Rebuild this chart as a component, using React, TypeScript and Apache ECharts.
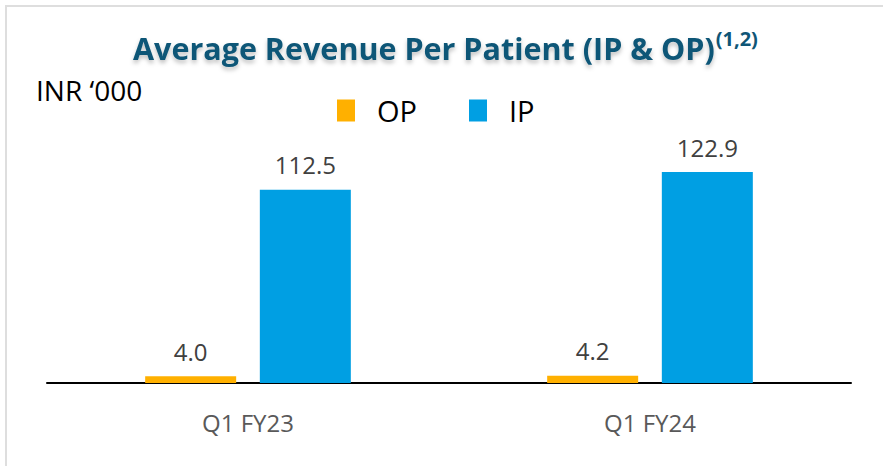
import React, { useEffect, useRef } from "react";
import * as echarts from "echarts";

const categories = ["Q1 FY23", "Q1 FY24"];
const opValues = [4.0, 4.2];
const ipValues = [112.5, 122.9];
const seriesNames = ["OP", "IP"];
const titleText = "Average Revenue Per Patient (IP & OP)";
const titleSup = "(1,2)";
const unitText = "INR \u2018000";

const FONT = "'Open Sans', 'Noto Sans', sans-serif";

export default function App() {
  const ref = useRef<HTMLDivElement>(null);
  useEffect(() => {
    document.body.style.margin = "0";
    const chart = echarts.init(ref.current!, null, { renderer: "svg" });
    const labelStyle = {
      show: true,
      position: "top",
      distance: 13,
      fontSize: 24,
      color: "#404040",
      fontFamily: FONT,
      formatter: (p: any) => Number(p.value).toFixed(1),
    };
    chart.setOption({
      animation: false,
      backgroundColor: "#ffffff",
      title: {
        left: 128,
        top: 23,
        text: `{a|${titleText}}{b|${titleSup}}`,
        textStyle: {
          rich: {
            a: {
              fontSize: 30.5,
              fontWeight: "bold",
              color: "#0f5677",
              fontFamily: FONT,
              textShadowColor: "rgba(0,0,0,0.25)",
              textShadowBlur: 4,
              textShadowOffsetY: 3,
              lineHeight: 40,
            },
            b: {
              fontSize: 20,
              fontWeight: "bold",
              color: "#0f5677",
              fontFamily: FONT,
              verticalAlign: "top",
              lineHeight: 40,
              padding: [0, 0, 14, 1],
            },
          },
        },
      },
      graphic: [
        {
          type: "rect",
          shape: { x: 6, y: 6, width: 900, height: 500 },
          style: { fill: "none", stroke: "#dedede", lineWidth: 2 },
          silent: true,
        },
        {
          type: "text",
          left: 36,
          top: 76,
          style: {
            text: unitText,
            fontSize: 28,
            fill: "#000000",
            fontFamily: FONT,
          },
        },
      ],
      legend: {
        left: 332,
        top: 91,
        itemWidth: 18,
        itemHeight: 22,
        itemGap: 52,
        icon: "rect",
        data: seriesNames,
        textStyle: {
          fontSize: 29,
          color: "#000000",
          fontFamily: FONT,
          padding: [0, 0, 0, 17],
        },
      },
      grid: { left: 47, right: 32, top: 147.8, bottom: 83 },
      xAxis: {
        type: "category",
        data: categories,
        axisLine: { lineStyle: { color: "#000000", width: 2 } },
        axisTick: { show: false },
        axisLabel: {
          fontSize: 24,
          color: "#595959",
          fontFamily: FONT,
          margin: 27,
        },
      },
      yAxis: {
        type: "value",
        min: 0,
        max: 137,
        show: false,
        splitLine: { show: false },
      },
      series: [
        {
          name: seriesNames[0],
          type: "bar",
          data: opValues,
          barWidth: 91,
          barGap: "26%",
          itemStyle: { color: "#FFB000" },
          label: labelStyle,
        },
        {
          name: seriesNames[1],
          type: "bar",
          data: ipValues,
          barWidth: 91,
          barGap: "26%",
          itemStyle: { color: "#009FE3" },
          label: labelStyle,
        },
      ],
    });
    return () => chart.dispose();
  }, []);
  return <div ref={ref} style={{ width: 883, height: 466 }} />;
}
